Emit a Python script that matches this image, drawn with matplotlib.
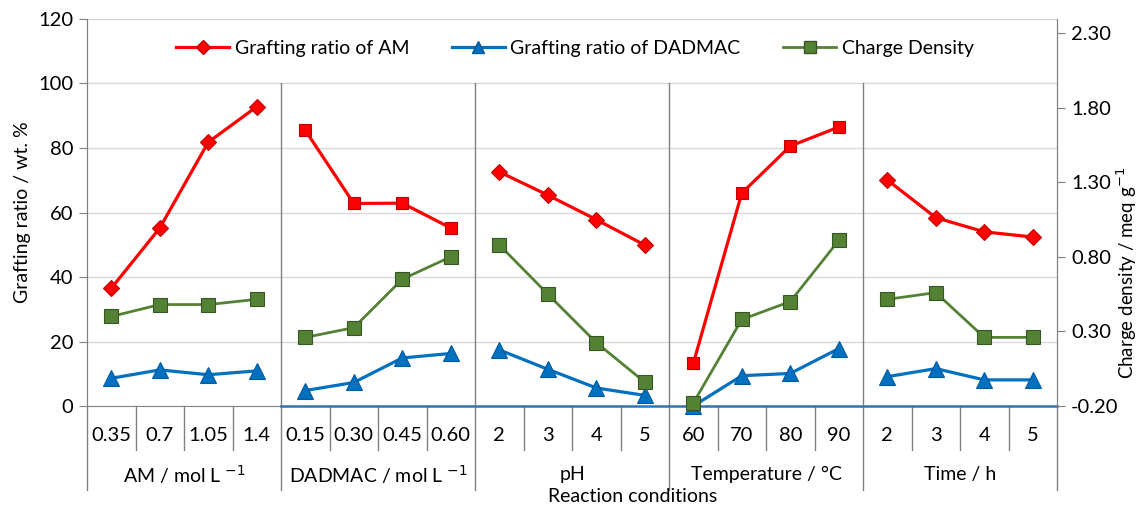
import numpy as np
import matplotlib
matplotlib.use('Agg')
import matplotlib.pyplot as plt
from matplotlib.lines import Line2D

plt.rcParams['font.family'] = ['Lato', 'DejaVu Sans']
plt.rcParams['font.size'] = 14

# categories (5 reaction-condition groups, 4 levels each)
groups = ['AM / mol L $^{-1}$', 'DADMAC / mol L $^{-1}$', 'pH', 'Temperature / °C', 'Time / h']
levels = ['0.35', '0.7', '1.05', '1.4',
          '0.15', '0.30', '0.45', '0.60',
          '2', '3', '4', '5',
          '60', '70', '80', '90',
          '2', '3', '4', '5']

# grafting ratio (wt. %)
gr_am = [36.5, 55.2, 81.8, 92.8,
         85.5, 62.8, 62.9, 55.2,
         72.6, 65.4, 57.8, 49.9,
         13.2, 66.0, 80.6, 86.5,
         70.1, 58.4, 54.0, 52.4]
gr_dadmac = [8.6, 11.2, 9.7, 10.9,
             4.8, 7.3, 14.9, 16.3,
             17.4, 11.4, 5.6, 3.3,
             0.0, 9.4, 10.1, 17.8,
             9.1, 11.6, 8.1, 8.1]
# charge density (meq/g)
charge = [0.40, 0.48, 0.48, 0.515,
          0.26, 0.325, 0.65, 0.80,
          0.88, 0.55, 0.225, -0.04,
          -0.18, 0.38, 0.50, 0.91,
          0.515, 0.56, 0.26, 0.26]

red_markers = ['D', 's', 'D', 's', 'D']

red = '#FF0000'
blue = '#0070C0'
green = '#548235'
grey = '#808080'

fig = plt.figure(figsize=(11.42, 5.05), dpi=100)
ax = fig.add_axes([0.0762, 0.196, 0.8494, 0.7664])
ax2 = ax.twinx()

x = np.arange(len(levels))

# grid + separators
for v in range(20, 121, 20):
  ax.axhline(v, color='#D9D9D9', lw=1, zorder=0)
ax.set_xlim(-0.5, 19.5)
ax.set_ylim(0, 120)
ax2.set_ylim(-0.2, -0.2 + 2.5 * 387 / 373)

for b in [3.5, 7.5, 11.5, 15.5]:
  ax.plot([b, b], [0, 100], color=grey, lw=1, zorder=1)
trans = ax.get_xaxis_transform()
for b in [-0.5, 3.5, 7.5, 11.5, 15.5, 19.5]:
  ax.plot([b, b], [0, -0.217], color=grey, lw=1, transform=trans, clip_on=False)
for i in range(20):
  b = i + 0.5
  if i % 4 != 3:
    ax.plot([b, b], [0, -0.114], color=grey, lw=1, transform=trans, clip_on=False)
for i, lab in enumerate(levels):
  ax.text(i, -0.075, lab, transform=trans, ha='center', va='center', fontsize=14.5)
for g, lab in enumerate(groups):
  ax.text(g * 4 + 1.5, -0.178, lab, transform=trans, ha='center', va='center', fontsize=14)
ax.text(10.75, -0.235, 'Reaction conditions', transform=trans, ha='center', va='center', fontsize=14)

# series, drawn group by group
for g in range(5):
  s = slice(g * 4, g * 4 + 4)
  ax.plot(x[s], gr_am[s], color=red, lw=2.3, marker=red_markers[g], ms=8,
          mfc=red, mec='#C00000', mew=0.8, zorder=3)
  ax.plot(x[s], gr_dadmac[s], color=blue, lw=2.3, marker='^', ms=11,
          mfc=blue, mec='#005A9E', mew=0.8, zorder=3, clip_on=False)
  ax2.plot(x[s], charge[s], color=green, lw=2, marker='s', ms=10,
           mfc=green, mec='#375623', mew=0.8, zorder=3, clip_on=False)

ax.plot([3.5, 19.5], [0, 0], color='#2E75B6', lw=1.8, zorder=4, clip_on=False)

ax.set_yticks(range(0, 121, 20))
ax2.set_yticks(np.arange(-0.2, 2.31, 0.5))
ax2.set_yticklabels(['%.2f' % v for v in np.arange(-0.2, 2.31, 0.5)])
ax.set_xticks([])
ax.tick_params(axis='y', length=6, color=grey, labelsize=14.5, pad=4)
ax2.tick_params(axis='y', length=6, color=grey, labelsize=14.5, pad=4)

for a in (ax, ax2):
  a.spines['top'].set_visible(False)
  for sp in ('left', 'right', 'bottom'):
    a.spines[sp].set_color(grey)
ax2.spines['bottom'].set_visible(False)

ax.set_ylabel('Grafting ratio / wt. %', fontsize=14, labelpad=5)
ax2.set_ylabel('Charge density / meq g$^{-1}$', fontsize=13.5, va='center')
ax2.yaxis.set_label_coords(1.072, 0.345)

handles = [
  Line2D([], [], color=red, lw=2.3, marker='D', ms=7, mec='#C00000'),
  Line2D([], [], color=blue, lw=2.3, marker='^', ms=8, mec='#005A9E'),
  Line2D([], [], color=green, lw=2, marker='s', ms=8, mec='#375623'),
]
ax.legend(handles, ['Grafting ratio of AM', 'Grafting ratio of DADMAC', 'Charge Density'],
          loc='center', bbox_to_anchor=(0.503, 0.925), ncol=3, frameon=False,
          fontsize=14, handlelength=2.7, columnspacing=2.2, handletextpad=0.3)

fig.savefig('out.png', dpi=100)
